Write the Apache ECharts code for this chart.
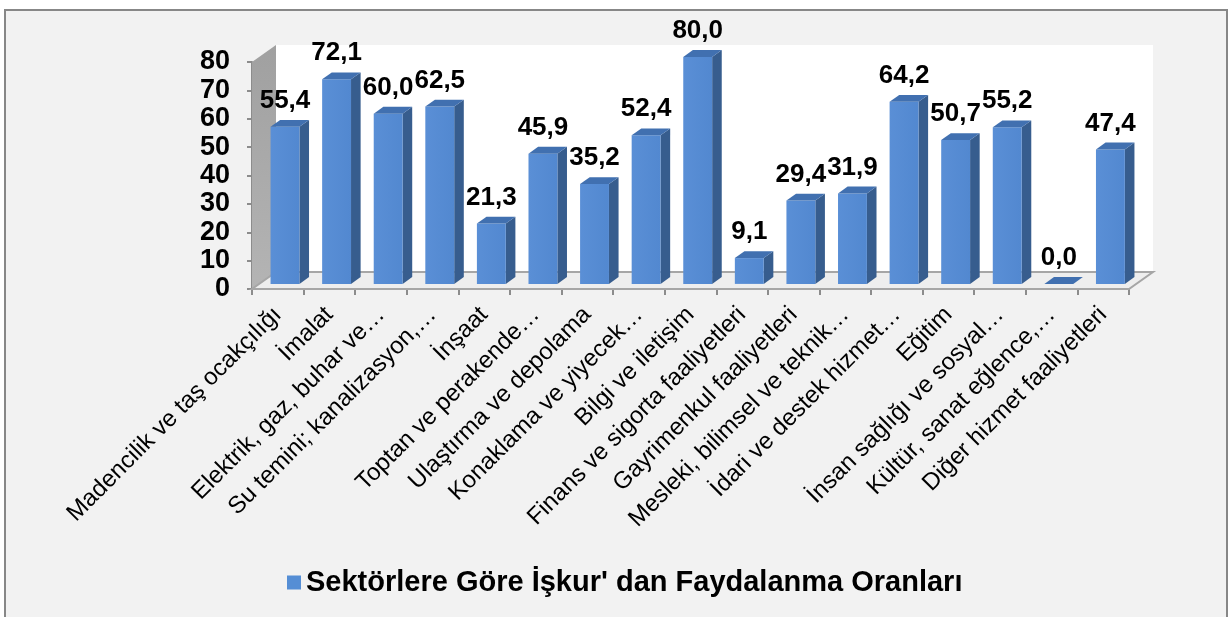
<!DOCTYPE html>
<html>
<head>
<meta charset="utf-8">
<script src="https://cdn.jsdelivr.net/npm/echarts@6/dist/echarts.min.js"></script>
<style>
  html, body { margin: 0; padding: 0; background: #fff; }
  #chart { width: 1232px; height: 617px; }
</style>
</head>
<body>
<div id="chart"></div>
<script>
// Sektörlere göre İşkur'dan faydalanma oranları (%)
const categories = [
  "Madencilik ve taş ocakçılığı",
  "İmalat",
  "Elektrik, gaz, buhar ve…",
  "Su temini; kanalizasyon,…",
  "İnşaat",
  "Toptan ve perakende…",
  "Ulaştırma ve depolama",
  "Konaklama ve yiyecek…",
  "Bilgi ve iletişim",
  "Finans ve sigorta faaliyetleri",
  "Gayrimenkul faaliyetleri",
  "Mesleki, bilimsel ve teknik…",
  "İdari ve destek hizmet…",
  "Eğitim",
  "İnsan sağlığı ve sosyal…",
  "Kültür, sanat eğlence,…",
  "Diğer hizmet faaliyetleri"
];
const values = [55.4, 72.1, 60.0, 62.5, 21.3, 45.9, 35.2, 52.4, 80.0, 9.1, 29.4, 31.9, 64.2, 50.7, 55.2, 0.0, 47.4];
const seriesName = "Sektörlere Göre İşkur' dan Faydalanma Oranları";
const yMax = 80;

const FONT = '"Liberation Sans", Arial, sans-serif';
const DEPTH = [24, -17]; // 3B derinlik vektörü (px)

const chart = echarts.init(document.getElementById("chart"));

// zemin + duvarlar
function renderFrame(params, api) {
  const band = api.size([1, 0])[0];
  const p0 = api.coord([0, 0]);
  const pN = api.coord([categories.length - 1, 0]);
  const pTop = api.coord([0, yMax]);
  const xl = p0[0] - band / 2;
  const xr = pN[0] + band / 2;
  const yb = p0[1];
  const yt = pTop[1];
  const dx = DEPTH[0], dy = DEPTH[1];
  return {
    type: "group",
    children: [
      { // arka duvar
        type: "rect",
        shape: { x: xl + dx, y: yt + dy, width: xr - xl, height: yb - yt },
        style: { fill: "#ffffff" }
      },
      { // sol duvar
        type: "polygon",
        shape: { points: [[xl, yb], [xl, yt], [xl + dx, yt + dy], [xl + dx, yb + dy]] },
        style: {
          fill: new echarts.graphic.LinearGradient(0, 0, 0, 1, [
            { offset: 0, color: "#a0a0a0" },
            { offset: 1, color: "#b4b4b4" }
          ])
        }
      },
      { // zemin
        type: "polygon",
        shape: { points: [[xl, yb], [xr, yb], [xr + dx, yb + dy], [xl + dx, yb + dy]] },
        style: { fill: "#eeeeee", stroke: "#a6a6a6", lineWidth: 2 }
      }
    ]
  };
}

// 3B sütun
function renderBar(params, api) {
  const i = api.value(0);
  const v = api.value(1);
  const band = api.size([1, 0])[0];
  const top = api.coord([i, v]);
  const base = api.coord([i, 0]);
  const w = band * 0.56;
  const fx = DEPTH[0] * 0.3, fy = DEPTH[1] * 0.3;
  const bx = DEPTH[0] * 0.4, by = DEPTH[1] * 0.4;
  const xl = top[0] - w / 2 + fx;
  const xr = xl + w;
  const yt = top[1] + fy;
  const yb = base[1] + fy;
  const children = [];
  if (yb - yt > 0.5) {
    children.push({
      type: "polygon",
      shape: { points: [[xr, yt], [xr + bx, yt + by], [xr + bx, yb + by], [xr, yb]] },
      style: { fill: "#375d8e" }
    });
    children.push({
      type: "rect",
      shape: { x: xl, y: yt, width: w, height: yb - yt },
      style: {
        fill: new echarts.graphic.LinearGradient(0, 0, 1, 0, [
          { offset: 0, color: "#5a8fd6" },
          { offset: 1, color: "#5288d0" }
        ])
      }
    });
  }
  children.push({
    type: "polygon",
    shape: { points: [[xl, yt], [xl + bx, yt + by], [xr + bx, yt + by], [xr, yt]] },
    style: { fill: "#4170b0" }
  });
  children.push({
    type: "text",
    style: {
      text: v.toFixed(1).replace(".", ","),
      x: xl + w / 2,
      y: yt - 26,
      align: "center",
      verticalAlign: "middle",
      font: "bold 26px " + FONT,
      fill: "#000"
    }
  });
  return { type: "group", children: children };
}

chart.setOption({
  backgroundColor: "#ffffff",
  animation: false,
  graphic: [{
    type: "rect",
    z: -10,
    shape: { x: 5, y: 10, width: 1222, height: 620 },
    style: { fill: "#f2f2f2", stroke: "#878787", lineWidth: 2 }
  }],
  grid: {
    left: 252,
    right: 103,
    top: 62,
    bottom: 328
  },
  legend: {
    left: 282,
    top: 563,
    icon: "rect",
    itemWidth: 14,
    itemHeight: 14,
    data: [seriesName],
    textStyle: { color: "#000", fontSize: 29, fontWeight: "bold", fontFamily: FONT }
  },
  xAxis: {
    type: "category",
    data: categories,
    axisLine: { show: true, lineStyle: { color: "#8c8c8c", width: 2 } },
    axisTick: { show: true, length: 6, lineStyle: { color: "#8c8c8c", width: 2 } },
    axisLabel: {
      rotate: 45,
      interval: 0, // hepsini göster
      margin: 22,
      color: "#000",
      fontSize: 24,
      fontFamily: FONT
    }
  },
  yAxis: {
    type: "value",
    min: 0,
    max: yMax,
    interval: 10,
    splitLine: { show: false },
    axisLine: { show: true, lineStyle: { color: "#8c8c8c", width: 2 } },
    axisTick: { show: true, length: 5, lineStyle: { color: "#8c8c8c", width: 2 } },
    axisLabel: {
      color: "#000",
      fontSize: 27,
      fontWeight: "bold",
      fontFamily: FONT,
      margin: 22
    }
  },
  series: [
    {
      name: "frame",
      type: "custom",
      renderItem: renderFrame,
      data: [[0, 0]],
      z: 1,
      silent: true,
      clip: false
    },
    {
      name: seriesName,
      type: "custom",
      renderItem: renderBar,
      itemStyle: { color: "#558ed5" },
      encode: { x: 0, y: 1 },
      data: values.map((v, i) => [i, v]),
      z: 3,
      clip: false
    }
  ]
});
</script>
</body>
</html>
